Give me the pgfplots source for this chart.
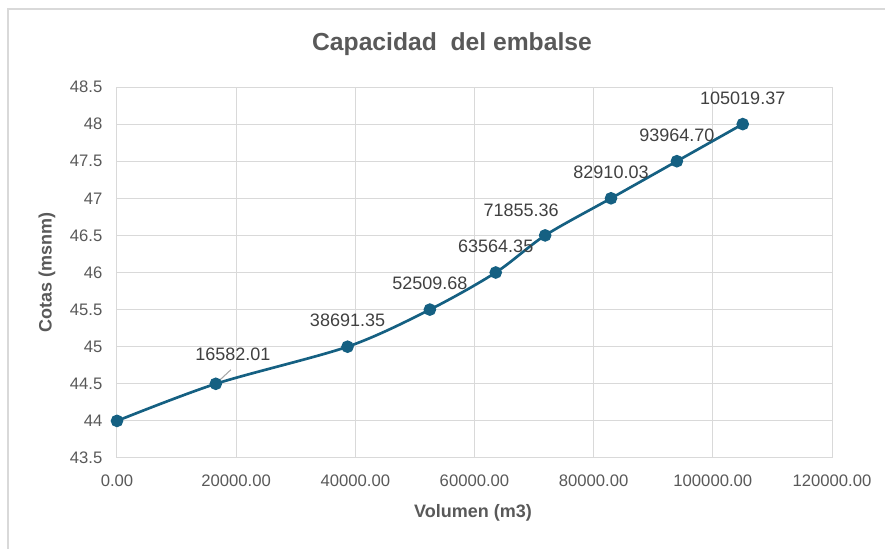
\documentclass[border=0pt]{standalone}
\usepackage{pgfplots}
\pgfplotsset{compat=1.18}
\usepackage{fontspec}
\setmainfont{Liberation Sans}
\definecolor{lineblue}{HTML}{156082}
\definecolor{txt}{HTML}{595959}
\definecolor{lbl}{HTML}{404040}
\definecolor{gridc}{HTML}{D9D9D9}
\begin{document}
\begin{tikzpicture}[x=0.75pt,y=0.75pt]
\useasboundingbox (-117,-91) rectangle (768,458);
\draw[gridc, line width=1.2pt] (-109,-91) -- (-109,449) -- (768,449);
\begin{axis}[at={(0,0)}, anchor=south west, scale only axis,
  width=536.25pt, height=278.25pt,
  xmin=0, xmax=120000, ymin=43.5, ymax=48.5,
  xtick={0,20000,40000,60000,80000,100000,120000},
  ytick={43.5,44,44.5,45,45.5,46,46.5,47,47.5,48,48.5},
  grid=major, major grid style={gridc, line width=0.75pt},
  axis line style={draw=none}, major tick length=0pt,
  scaled x ticks=false, scaled y ticks=false,
  tick label style={font=\fontsize{12.5}{14}\selectfont, text=txt},
  /pgf/number format/assume math mode=true,
  xticklabel style={/pgf/number format/.cd, fixed, fixed zerofill, precision=2, 1000 sep={}, /tikz/.cd, yshift=-9pt},
  yticklabel style={/pgf/number format/.cd, fixed, precision=1, /tikz/.cd, xshift=-7.5pt},
  clip=false,
  lab/.style={draw=none, mark=none, point meta=explicit symbolic, nodes near coords,
    nodes near coords style={anchor=center, font=\fontsize{13.5}{15}\selectfont, text=lbl}},
]
\draw[color=black!35, line width=0.8pt] (axis cs:16582.01,44.5) -- ++(11.25pt,10.5pt);
\addplot[lineblue, line width=2pt, smooth, mark=*, mark size=3.7pt, mark options={fill=lineblue, draw=lineblue}] coordinates {
(0,44) (16582.01,44.5) (38691.35,45) (52509.68,45.5) (63564.35,46) (71855.36,46.5) (82910.03,47) (93964.70,47.5) (105019.37,48)};
\addplot[lab, nodes near coords style={xshift=0pt, yshift=19.5pt}] coordinates {
(38691.35,45) [38691.35]
(52509.68,45.5) [52509.68]
(63564.35,46) [63564.35]
(82910.03,47) [82910.03]
(93964.70,47.5) [93964.70]
(105019.37,48) [105019.37]};
\addplot[lab, nodes near coords style={xshift=12.75pt, yshift=21.75pt}] coordinates {(16582.01,44.5) [16582.01]};
\addplot[lab, nodes near coords style={xshift=-18pt, yshift=18.75pt}] coordinates {(71855.36,46.5) [71855.36]};
\end{axis}
\node[text=txt, font=\fontsize{18.5}{22}\selectfont\bfseries] at (335,414) {Capacidad\ \ del embalse};
\node[text=txt, font=\fontsize{13.5}{16}\selectfont\bfseries] at (356,-55) {Volumen (m3)};
\node[text=txt, font=\fontsize{13.5}{16}\selectfont\bfseries, rotate=90] at (-70,186) {Cotas (msnm)};
\end{tikzpicture}
\end{document}
